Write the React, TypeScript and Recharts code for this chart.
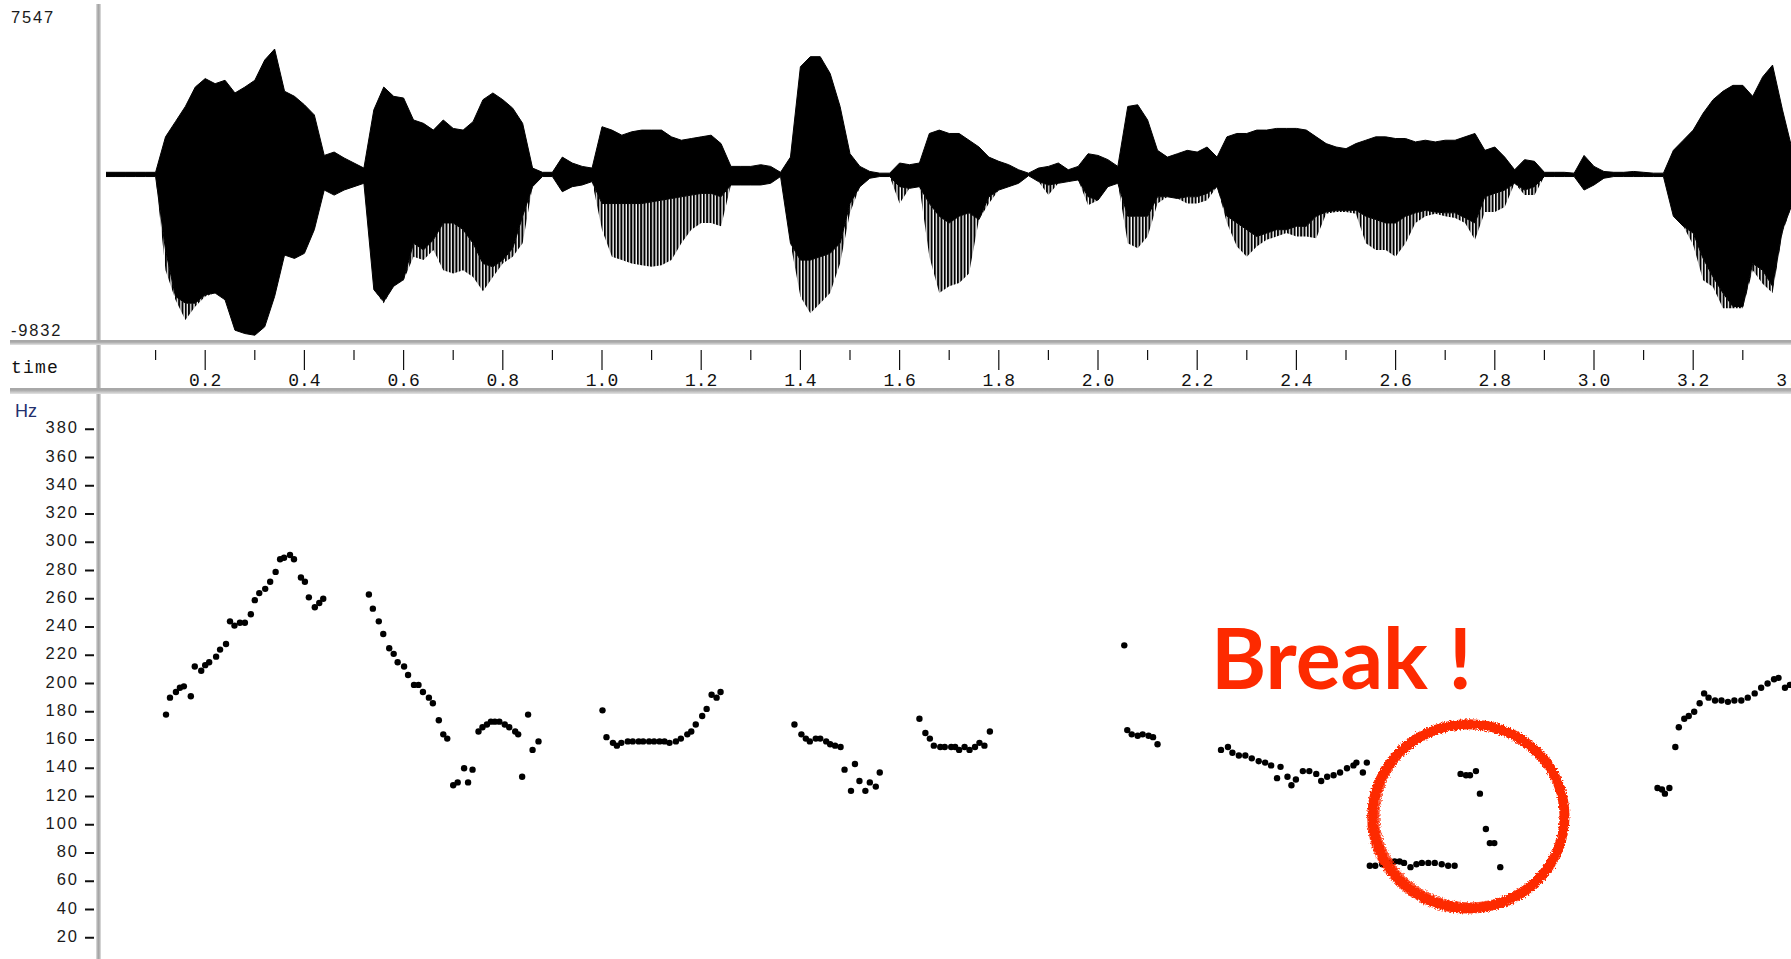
import React from "react";
import {
  ComposedChart,
  Area,
  ScatterChart,
  Scatter,
  XAxis,
  YAxis,
  ReferenceDot,
} from "recharts";

// waveform envelope, one sample every 20 ms from 0.00 s
const WAVE_STEP = 0.02;
const WAVE_TOP = [
  100, 100, 100, 100, 100, 100,
  2200, 3100, 4000, 5150, 5650, 5350, 5550, 4800, 5150, 5550, 6750, 7400, 4900, 4600, 4100, 3500, 1100, 1300, 950, 650, 350,
  3800, 5150, 4600, 4500, 3200, 3000, 2600, 3200, 2700, 2600, 3100, 4400, 4800, 4400, 3900, 3000, 350, 100, 100, 1000, 650, 450, 350,
  2800, 2600, 2300, 2500, 2600, 2600, 2600, 2200, 2000, 2100, 2200, 2300, 1800, 450, 450, 450, 550, 450, 100, 1000,
  6350, 6950, 6950, 5950, 4000, 1200, 450, 150, 50, 50, 650, 550, 650, 2400, 2600, 2400, 2400, 2000, 1600, 1000,
  750, 550, 250, 50, 350, 450, 650, 250, 450, 1200, 1100, 850, 450, 4000, 4100, 3200, 1400, 1000, 1200, 1400,
  1300, 1600, 1000, 2200, 2400, 2400, 2600, 2600, 2700, 2700, 2700, 2600, 2200, 1800, 1600, 1500, 1800, 2000, 2200, 2200,
  2100, 2100, 1900, 2000, 1900, 2000, 2000, 2200, 2400, 1400, 1600, 1000, 250, 850, 750, 100, 100, 100, 50, 1100,
  450, 150, 100, 100, 150, 100, 50, 50, 1400, 2000, 2600, 3600, 4400, 4900, 5250, 5250, 4600, 5750, 6450, 3800, 1400,
];
// bottom of the solid part
const WAVE_CORE = [
  -150, -150, -150, -150, -150, -150,
  -4500, -7250, -7650, -7650, -7150, -7050, -7450, -9250, -9450, -9550, -9050, -7250, -4800, -5000, -4700, -3300, -950, -1250, -950, -750, -550,
  -6850, -7550, -6650, -6250, -4100, -4500, -3900, -2900, -2900, -3300, -4100, -5300, -5500, -5100, -4400, -2500, -750, -150, -150, -1050, -750, -650, -450,
  -1750, -1750, -1750, -1750, -1750, -1650, -1550, -1450, -1350, -1250, -1150, -1150, -1350, -650, -650, -650, -650, -550, -150, -4100,
  -5100, -5100, -4900, -4700, -4100, -1750, -750, -250, -150, -150, -750, -850, -750, -1750, -2500, -2900, -2500, -2300, -2700, -1350,
  -950, -750, -550, -100, -450, -650, -550, -450, -350, -1350, -1550, -750, -550, -2500, -2500, -2500, -1350, -1350, -1450, -1350,
  -1350, -1150, -750, -2500, -2900, -3300, -3700, -3500, -3300, -3300, -3100, -3100, -2500, -2250, -2150, -2150, -2150, -2500, -2700, -2900,
  -2900, -2500, -2300, -2150, -2250, -2300, -2300, -2600, -2900, -1350, -1150, -950, -550, -950, -750, -150, -150, -150, -150, -950,
  -650, -250, -150, -150, -150, -150, -150, -150, -2500, -3100, -3500, -5000, -6100, -7050, -7850, -7850, -5300, -5700, -6650, -3300, -1750,
];
// tips of the glottal pulse spikes below the solid part
const WAVE_SPIKE = [
  -150, -150, -150, -150, -150, -150,
  -5700, -7450, -8650, -7850, -7250, -7050, -7450, -9250, -9450, -9550, -9050, -7250, -4800, -5000, -4700, -3300, -950, -1250, -950, -750, -550,
  -6850, -7650, -6650, -6300, -4900, -5100, -4500, -5700, -5900, -5700, -6100, -6950, -6100, -5300, -4900, -4100, -750, -150, -150, -1050, -750, -650, -450,
  -3300, -4900, -5100, -5300, -5400, -5500, -5400, -5100, -4100, -3300, -2900, -2900, -3100, -650, -650, -650, -650, -550, -150, -4100,
  -7250, -8250, -7650, -7050, -5300, -2300, -750, -250, -150, -150, -1750, -850, -750, -4900, -7050, -6650, -6450, -5900, -2700, -1750,
  -950, -750, -550, -100, -450, -1250, -550, -450, -350, -1850, -1550, -750, -550, -4100, -4400, -3700, -1750, -1350, -1450, -1750,
  -1750, -1550, -750, -2900, -4300, -4900, -4300, -3900, -3700, -3500, -3700, -3700, -3800, -2350, -2250, -2250, -2350, -4100, -4500, -4500,
  -4900, -4100, -2900, -2500, -2350, -2500, -2600, -2900, -3900, -2250, -2250, -1950, -550, -1250, -1250, -150, -150, -150, -150, -950,
  -650, -250, -150, -150, -150, -150, -150, -150, -2500, -3100, -4200, -6300, -6700, -7950, -7950, -7950, -5700, -6500, -7050, -3500, -1750,
];

const WAVE_MAX = 7547;
const WAVE_MIN = -9832;

const TIME_TICKS = [
  0.1, 0.2, 0.3, 0.4, 0.5, 0.6, 0.7, 0.8, 0.9, 1.0, 1.1, 1.2, 1.3, 1.4, 1.5, 1.6, 1.7,
  1.8, 1.9, 2.0, 2.1, 2.2, 2.3, 2.4, 2.5, 2.6, 2.7, 2.8, 2.9, 3.0, 3.1, 3.2, 3.3, 3.4,
];
const HZ_TICKS = [20, 40, 60, 80, 100, 120, 140, 160, 180, 200, 220, 240, 260, 280, 300, 320, 340, 360, 380];

// pitch track (s, Hz)
const PITCH_T = [
  0.121, 0.129, 0.141, 0.149, 0.157, 0.171, 0.179, 0.192, 0.2, 0.208, 0.222, 0.23, 0.242, 0.25, 0.259, 0.27, 0.28,
  0.292, 0.3, 0.309, 0.321, 0.331, 0.342, 0.351, 0.359, 0.371, 0.379, 0.393, 0.401, 0.409, 0.421, 0.43, 0.438,
  0.53, 0.538, 0.55, 0.559, 0.571, 0.58, 0.588, 0.601, 0.609, 0.621, 0.63, 0.639, 0.651, 0.659, 0.671, 0.68, 0.688,
  0.7, 0.709, 0.722, 0.73, 0.739, 0.751, 0.759, 0.768, 0.776, 0.784, 0.793, 0.804, 0.813, 0.825, 0.831, 0.839, 0.851, 0.86, 0.872,
  1.001, 1.009, 1.022, 1.03, 1.039, 1.052, 1.062, 1.074, 1.083, 1.095, 1.105, 1.116, 1.126, 1.136, 1.149, 1.159,
  1.172, 1.18, 1.189, 1.202, 1.211, 1.221, 1.231, 1.239,
  1.388, 1.402, 1.411, 1.419, 1.431, 1.44, 1.452, 1.46, 1.47, 1.481, 1.489, 1.502, 1.51, 1.519, 1.531, 1.54, 1.552, 1.56,
  1.64, 1.652, 1.661, 1.669, 1.682, 1.691, 1.704, 1.712, 1.72, 1.731, 1.741, 1.752, 1.761, 1.771, 1.782,
  2.053, 2.059, 2.068, 2.08, 2.09, 2.102, 2.111, 2.12,
  2.248, 2.262, 2.271, 2.284, 2.297, 2.31, 2.324, 2.337, 2.349, 2.361, 2.368, 2.382, 2.39, 2.399, 2.413, 2.426,
  2.44, 2.45, 2.462, 2.475, 2.488, 2.502, 2.515, 2.521, 2.534, 2.542,
  2.548, 2.559, 2.573, 2.586, 2.598, 2.608, 2.617, 2.63, 2.642, 2.653, 2.666, 2.679, 2.693, 2.706, 2.719,
  2.731, 2.742, 2.75, 2.762, 2.77, 2.782, 2.79, 2.799, 2.811,
  3.128, 3.137, 3.143, 3.152, 3.164, 3.171, 3.182, 3.191, 3.202, 3.213, 3.222, 3.231, 3.244, 3.257, 3.27, 3.283,
  3.297, 3.31, 3.324, 3.337, 3.35, 3.363, 3.372, 3.385, 3.395,
];
const PITCH_HZ = [
  178, 190, 194, 197, 198, 191, 212, 209, 213, 215, 219, 224, 228, 244, 241, 243, 243,
  249, 259, 264, 267, 272, 279, 288, 289, 291, 288, 275, 272, 261, 254, 257, 260,
  263, 253, 244, 235, 225, 221, 215, 212, 206, 199, 199, 194, 190, 186, 174, 164, 161,
  128, 130, 140, 130, 139, 166, 169, 171, 173, 173, 173, 171, 169, 166, 164, 134, 178, 153, 159,
  181, 162, 158, 156, 158, 159, 159, 159, 159, 159, 159, 159, 159, 158, 159, 161,
  164, 166, 171, 177, 182, 192, 190, 194,
  171, 164, 161, 159, 161, 161, 159, 157, 156, 155, 139, 124, 143, 131, 124, 130, 127, 137,
  175, 165, 161, 156, 155, 155, 155, 155, 153, 155, 153, 155, 158, 156, 166,
  227, 167, 164, 163, 164, 163, 162, 157,
  153, 155, 151, 149, 149, 147, 145, 144, 142, 133, 141, 134, 128, 132, 138, 138,
  136, 131, 134, 135, 137, 140, 142, 144, 137, 144,
  71, 71, 72, 73, 74, 74, 73, 70, 72, 73, 73, 73, 72, 71, 71,
  136, 135, 135, 138, 122, 97, 87, 87, 70,
  126, 125, 122, 126, 155, 169, 175, 177, 180, 186, 193, 190, 188, 188, 187, 188,
  188, 190, 193, 197, 200, 203, 204, 197, 199,
];

// the annotated octave jump
const BREAK_T = 2.747;
const BREAK_HZ = 106;

const PX_PER_S = 496;
const AXIS_W = 99;
const CHART_W = 1820;
const T_MIN = (AXIS_W - 106) / PX_PER_S;
const T_MAX = T_MIN + (CHART_W - AXIS_W) / PX_PER_S;

const RED = "#fd2a00";
const MONO = "'Liberation Mono', 'DejaVu Sans Mono', monospace";
const SANS = "'Liberation Sans', Arial, sans-serif";

const wave = WAVE_TOP.map((top, i) => ({
  t: i * WAVE_STEP,
  body: [WAVE_CORE[i], top],
  tail: [WAVE_SPIKE[i], WAVE_CORE[i]],
}));

const pitch = PITCH_T.map((t, i) => ({ t, f: PITCH_HZ[i] }));

function TimeTick(props: any) {
  const { x, payload } = props;
  const v = payload.value as number;
  const major = Math.round(v * 10) % 2 === 0;
  return (
    <g>
      <line x1={x} x2={x} y1={350} y2={major ? 370 : 360} stroke="#111" strokeWidth={1.2} />
      {major && (
        <text x={x} y={386} textAnchor="middle" fontFamily={MONO} fontSize={18} fill="#111">
          {v.toFixed(1)}
        </text>
      )}
    </g>
  );
}

// Praat-like min/max labels pinned to the panel corners
function LimitTick(props: any) {
  const v = props.payload.value as number;
  return (
    <text x={11} y={v > 0 ? 23 : 336} fontFamily={SANS} fontSize={16.5} letterSpacing={1.8} fill="#1a1a1a">
      {String(v)}
    </text>
  );
}

function HzTick(props: any) {
  const { y, payload } = props;
  return (
    <g>
      <text x={79} y={y + 4} textAnchor="end" fontFamily={SANS} fontSize={16.5} letterSpacing={2} fill="#1a1a1a">
        {payload.value}
      </text>
      <line x1={85} x2={94} y1={y} y2={y} stroke="#111" strokeWidth={2} />
    </g>
  );
}

function PitchDot(props: any) {
  return <circle cx={props.cx} cy={props.cy} r={3.2} fill="#000" />;
}

function RoughRing(props: any) {
  const { cx, cy } = props;
  return (
    <g filter="url(#rough)">
      <ellipse cx={cx} cy={cy} rx={96} ry={92} fill="none" stroke={RED} strokeWidth={10} />
      <ellipse cx={cx + 1.5} cy={cy - 1} rx={92} ry={88.5} fill="none" stroke={RED} strokeWidth={3} strokeOpacity={0.75} />
      <ellipse cx={cx - 1} cy={cy + 1} rx={99.5} ry={95.5} fill="none" stroke={RED} strokeWidth={2} strokeOpacity={0.6} />
    </g>
  );
}

export default function App() {
  return (
    <div
      style={{
        position: "absolute",
        left: 0,
        top: 0,
        width: 1791,
        height: 959,
        overflow: "hidden",
        background: "#fff",
      }}
    >
      {/* panel frame */}
      <div style={{ position: "absolute", left: 96, top: 4, width: 5, height: 955, background: "linear-gradient(to right, #e2e2e2, #a6a6a6 40%, #a6a6a6 60%, #e2e2e2)" }} />
      <div style={{ position: "absolute", left: 10, top: 340, width: 1781, height: 5, background: "linear-gradient(#a8a8a8, #a8a8a8 40%, #e4e4e4)" }} />
      <div style={{ position: "absolute", left: 10, top: 388, width: 1781, height: 6, background: "linear-gradient(#a8a8a8, #a8a8a8 35%, #e4e4e4)" }} />

      <div style={{ position: "absolute", left: 0, top: 0 }}>
        <ComposedChart width={CHART_W} height={390} data={wave} margin={{ top: 8, right: 0, bottom: 0, left: 0 }}>
          <defs>
            <pattern id="comb" width={3.3} height={8} patternUnits="userSpaceOnUse">
              <rect x={0} y={0} width={2} height={8} fill="#000" />
            </pattern>
          </defs>
          <XAxis
            type="number"
            dataKey="t"
            domain={[T_MIN, T_MAX]}
            ticks={TIME_TICKS}
            interval={0}
            height={50}
            axisLine={false}
            tickLine={false}
            tick={TimeTick}
            allowDataOverflow
          />
          <YAxis
            type="number"
            domain={[WAVE_MIN, -WAVE_MIN]}
            ticks={[WAVE_MIN, WAVE_MAX]}
            interval={0}
            width={AXIS_W}
            axisLine={false}
            tickLine={false}
            tick={LimitTick}
            allowDataOverflow
          />
          <Area dataKey="tail" type="linear" stroke="none" fill="url(#comb)" fillOpacity={1} isAnimationActive={false} />
          <Area dataKey="body" type="linear" stroke="#000" strokeWidth={1} fill="#000" fillOpacity={1} isAnimationActive={false} />
        </ComposedChart>
        <div style={{ position: "absolute", left: 11, top: 358, fontFamily: MONO, fontSize: 18, letterSpacing: 1.2, color: "#111" }}>
          time
        </div>
      </div>

      <div style={{ position: "absolute", left: 0, top: 395 }}>
        <ScatterChart width={CHART_W} height={575} margin={{ top: 6, right: 0, bottom: 4, left: 0 }}>
          <defs>
            <filter id="rough" x="-20%" y="-20%" width="140%" height="140%">
              <feTurbulence type="fractalNoise" baseFrequency="0.6" numOctaves={2} seed={4} />
              <feDisplacementMap in="SourceGraphic" scale={5} xChannelSelector="R" yChannelSelector="G" />
            </filter>
          </defs>
          <XAxis type="number" dataKey="t" domain={[T_MIN, T_MAX]} hide allowDataOverflow />
          <YAxis
            type="number"
            dataKey="f"
            domain={[0, 400]}
            ticks={HZ_TICKS}
            interval={0}
            width={AXIS_W}
            axisLine={false}
            tickLine={false}
            tick={HzTick}
            allowDataOverflow
          />
          <Scatter data={pitch} fill="#000" shape={PitchDot} isAnimationActive={false} />
          <ReferenceDot x={BREAK_T} y={BREAK_HZ} r={94} ifOverflow="visible" shape={RoughRing} />
        </ScatterChart>
        <div style={{ position: "absolute", left: 15, top: 6, fontFamily: SANS, fontSize: 18, color: "#22306e" }}>Hz</div>
      </div>

      <svg width={1791} height={959} style={{ position: "absolute", left: 0, top: 0, pointerEvents: "none" }}>
        <text x={1211} y={689} fontFamily="Lato, 'Open Sans', sans-serif" fontWeight={700} fontSize={84} fill={RED}>
          Break !
        </text>
      </svg>
    </div>
  );
}
